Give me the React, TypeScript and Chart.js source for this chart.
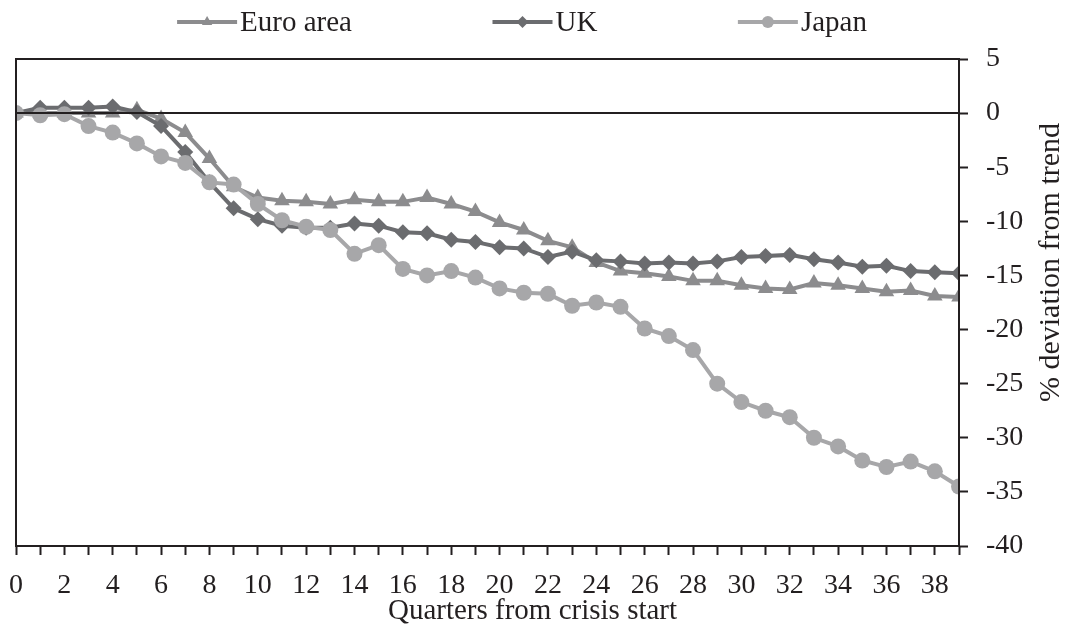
import React, { useEffect, useRef } from "react";
import { Chart, registerables } from "chart.js";

Chart.register(...registerables);

const quarters = [
  0, 1, 2, 3, 4, 5, 6, 7, 8, 9, 10, 11, 12, 13, 14, 15, 16, 17, 18, 19,
  20, 21, 22, 23, 24, 25, 26, 27, 28, 29, 30, 31, 32, 33, 34, 35, 36, 37, 38, 39,
];
const seriesNames = ["Euro area", "UK", "Japan"];
const euroArea = [
  0, 0.0, 0.0, 0.0, 0.0, 0.3, -0.5, -1.8, -4.2, -6.8, -7.8, -8.1, -8.2, -8.4, -8.0,
  -8.2, -8.2, -7.8, -8.4, -9.1, -10.1, -10.8, -11.8, -12.4, -13.8, -14.6, -14.8,
  -15.1, -15.5, -15.5, -15.9, -16.2, -16.3, -15.7, -15.9, -16.2, -16.5, -16.4,
  -16.9, -17.0,
];
const uk = [
  0, 0.5, 0.5, 0.5, 0.6, 0.1, -1.2, -3.6, -6.4, -8.8, -9.8, -10.4, -10.6, -10.6,
  -10.2, -10.4, -11.0, -11.1, -11.7, -11.9, -12.4, -12.5, -13.3, -12.8, -13.6,
  -13.7, -13.9, -13.8, -13.9, -13.7, -13.3, -13.2, -13.1, -13.5, -13.8, -14.2,
  -14.1, -14.6, -14.7, -14.8,
];
const japan = [
  0, -0.2, -0.1, -1.2, -1.8, -2.8, -4.0, -4.6, -6.4, -6.6, -8.4, -9.9, -10.5, -10.8,
  -13.0, -12.2, -14.4, -15.0, -14.6, -15.2, -16.2, -16.6, -16.7, -17.8, -17.5,
  -17.9, -19.9, -20.6, -21.9, -25.0, -26.7, -27.5, -28.1, -30.0, -30.8, -32.1,
  -32.7, -32.2, -33.1, -34.5,
];
const xMin = 0;
const xMax = 39;
const yMin = -40;
const yMax = 5;
const yStep = 5;
const xTitle = "Quarters from crisis start";
const yTitle = "% deviation from trend";

const FONT = '"Liberation Serif", "Times New Roman", serif';
const TEXT = "#231f20";
const COLORS = ["#8c8c8e", "#6b6c6f", "#a7a7a9"];
const STYLES = ["triangle", "rectRot", "circle"];
const RADII = [9, 8, 8];

function drawMarker(ctx: CanvasRenderingContext2D, style: string, x: number, y: number, r: number, color: string) {
  ctx.fillStyle = color;
  ctx.beginPath();
  if (style === "circle") {
    ctx.arc(x, y, r, 0, Math.PI * 2);
  } else if (style === "triangle") {
    ctx.moveTo(x, y - r);
    ctx.lineTo(x + r * Math.sin((2 * Math.PI) / 3), y + r / 2);
    ctx.lineTo(x - r * Math.sin((2 * Math.PI) / 3), y + r / 2);
    ctx.closePath();
  } else {
    ctx.moveTo(x, y - r);
    ctx.lineTo(x + r, y);
    ctx.lineTo(x, y + r);
    ctx.lineTo(x - r, y);
    ctx.closePath();
  }
  ctx.fill();
}

const framePlugin = {
  id: "frame",
  afterDatasetsDraw(chart: any) {
    const { ctx, chartArea } = chart;
    const yScale = chart.scales.y;
    ctx.save();
    ctx.strokeStyle = "#231f20";
    ctx.lineWidth = 2;
    const y0 = Math.round(yScale.getPixelForValue(0));
    ctx.beginPath();
    ctx.moveTo(chartArea.left, y0);
    ctx.lineTo(chartArea.right, y0);
    ctx.stroke();
    ctx.strokeRect(chartArea.left, chartArea.top, chartArea.right - chartArea.left, chartArea.bottom - chartArea.top);
    ctx.restore();
  },
  afterDraw(chart: any) {
    const { ctx, chartArea } = chart;
    // y-axis title, reading bottom to top
    ctx.save();
    ctx.font = `30px ${FONT}`;
    ctx.fillStyle = TEXT;
    ctx.textAlign = "center";
    ctx.textBaseline = "middle";
    ctx.translate(chart.width - 14, (chartArea.top + chartArea.bottom) / 2 - 40);
    ctx.rotate(-Math.PI / 2);
    ctx.fillText(yTitle, 0, 0);
    ctx.restore();

    // x-axis title, centred on the canvas
    ctx.save();
    ctx.font = `29px ${FONT}`;
    ctx.fillStyle = TEXT;
    ctx.textAlign = "center";
    ctx.textBaseline = "middle";
    ctx.fillText(xTitle, chart.width / 2, chartArea.bottom + 65);
    ctx.restore();

    // legend
    ctx.save();
    ctx.font = `29px ${FONT}`;
    const lineW = 60;
    const gapText = 3;
    const gapItem = 140.5;
    const items = chart.data.datasets.map((ds: any) => ({
      ds,
      w: lineW + gapText + ctx.measureText(ds.label).width,
    }));
    const total = items.reduce((s: number, it: any) => s + it.w, 0) + gapItem * (items.length - 1);
    let x = chart.width / 2 - 10.5 - total / 2;
    const y = 22;
    items.forEach(({ ds, w }: any) => {
      ctx.strokeStyle = ds.borderColor;
      ctx.lineWidth = 4;
      ctx.beginPath();
      ctx.moveTo(x, y);
      ctx.lineTo(x + lineW, y);
      ctx.stroke();
      drawMarker(ctx, ds.pointStyle, x + lineW / 2, y, 6, ds.backgroundColor);
      ctx.fillStyle = TEXT;
      ctx.textAlign = "left";
      ctx.textBaseline = "middle";
      ctx.fillText(ds.label, x + lineW + gapText, y + 1);
      x += w + gapItem;
    });
    ctx.restore();
  },
};

export default function App() {
  const canvasRef = useRef<HTMLCanvasElement | null>(null);

  useEffect(() => {
    document.body.style.margin = "0";
    const canvas = canvasRef.current;
    if (!canvas) return;
    const series = [euroArea, uk, japan];
    const chart = new Chart(canvas, {
      type: "line",
      data: {
        datasets: series.map((vals, s) => ({
          label: seriesNames[s],
          data: quarters.map((q, i) => ({ x: q, y: vals[i] })),
          borderColor: COLORS[s],
          backgroundColor: COLORS[s],
          borderWidth: 4,
          pointStyle: STYLES[s],
          pointRadius: RADII[s],
          pointBorderWidth: 0,
          pointBackgroundColor: COLORS[s],
          tension: 0,
          order: 3 - s,
        })),
      },
      options: {
        responsive: false,
        animation: false,
        events: [],
        layout: { padding: { top: 59, left: 16, right: 0, bottom: 0 } },
        plugins: {
          legend: { display: false },
          tooltip: { enabled: false },
          title: { display: false },
        },
        scales: {
          x: {
            type: "linear",
            min: xMin,
            max: xMax,
            afterFit: (scale: any) => {
              scale.height = 90;
              scale.paddingLeft = 0;
              scale.paddingRight = 0;
            },
            ticks: {
              stepSize: 1,
              autoSkip: false,
              maxRotation: 0,
              padding: 14,
              color: TEXT,
              font: { family: FONT, size: 28 },
              callback: (v: any) => (Number(v) % 2 === 0 ? String(v) : ""),
            },
            grid: {
              drawOnChartArea: false,
              drawTicks: true,
              tickLength: 9,
              tickColor: "#231f20",
              tickWidth: 2,
            },
            border: { display: true, color: "#231f20", width: 2 },
            title: { display: false },
          },
          y: {
            type: "linear",
            position: "right",
            min: yMin,
            max: yMax,
            afterFit: (scale: any) => {
              scale.width = 106;
              scale.paddingTop = 0;
              scale.paddingBottom = 0;
            },
            ticks: {
              stepSize: yStep,
              padding: 18,
              color: TEXT,
              font: { family: FONT, size: 28 },
            },
            grid: {
              drawOnChartArea: false,
              drawTicks: true,
              tickLength: 9,
              tickColor: "#231f20",
              tickWidth: 2,
            },
            border: { display: true, color: "#231f20", width: 2 },
          },
        },
      },
      plugins: [framePlugin],
    });
    return () => chart.destroy();
  }, []);

  return (
    <div style={{ width: 1065, height: 636, background: "#fff" }}>
      <canvas ref={canvasRef} width={1065} height={636} style={{ display: "block" }} />
    </div>
  );
}
